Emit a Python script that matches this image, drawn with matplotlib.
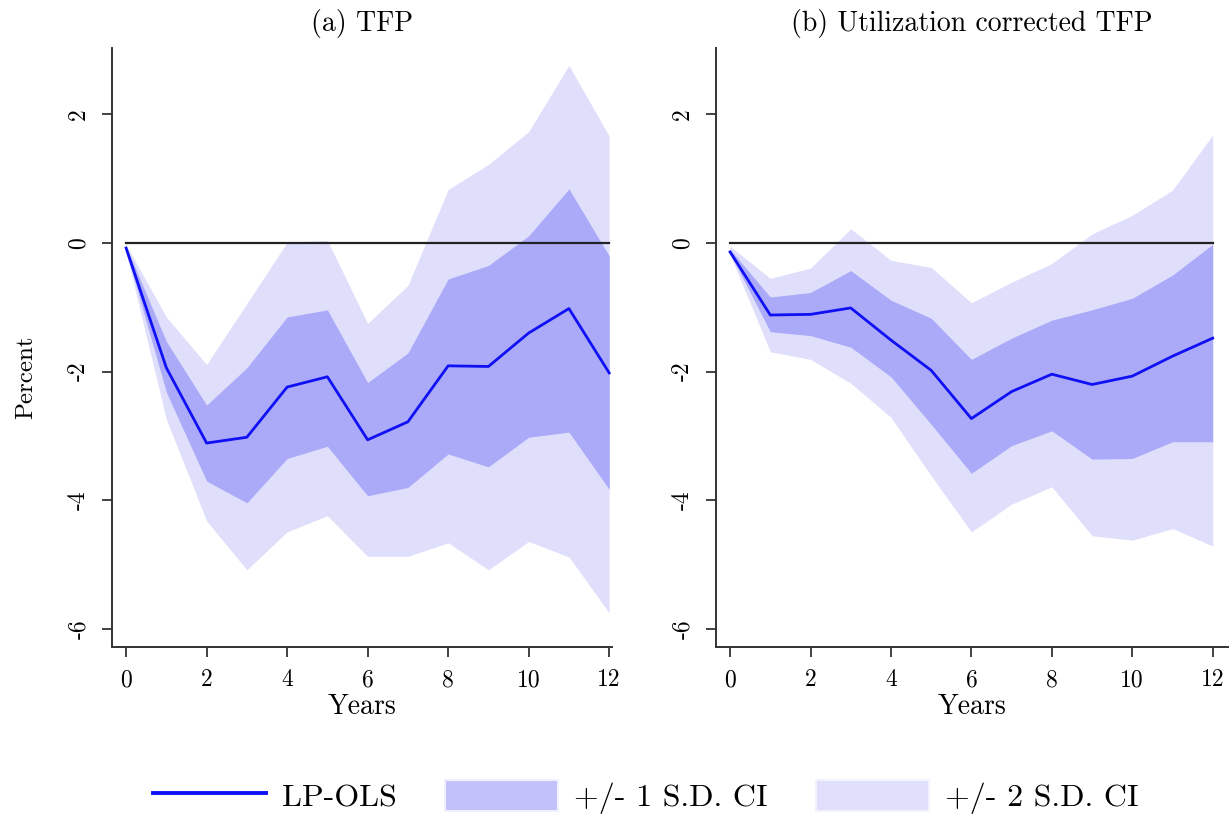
import matplotlib
matplotlib.use("Agg")
import matplotlib.pyplot as plt
from matplotlib.lines import Line2D
from matplotlib.patches import Patch

plt.rcParams['font.family'] = ['cmr10', 'DejaVu Serif']
plt.rcParams['axes.unicode_minus'] = False
plt.rcParams['mathtext.fontset'] = 'cm'

years = list(range(13))

# Panel (a) TFP
tfp_est = [-0.08, -1.94, -3.11, -3.02, -2.24, -2.08, -3.06, -2.78, -1.91, -1.92, -1.40, -1.02, -2.02]
tfp_up1 = [-0.05, -1.53, -2.52, -1.94, -1.15, -1.04, -2.17, -1.71, -0.56, -0.35, 0.11, 0.84, -0.20]
tfp_lo1 = [-0.12, -2.32, -3.70, -4.04, -3.35, -3.16, -3.93, -3.80, -3.28, -3.48, -3.02, -2.94, -3.83]
tfp_up2 = [-0.03, -1.15, -1.89, -0.94, 0.01, 0.04, -1.25, -0.66, 0.83, 1.22, 1.73, 2.76, 1.66]
tfp_lo2 = [-0.15, -2.74, -4.32, -5.08, -4.49, -4.24, -4.87, -4.87, -4.66, -5.08, -4.64, -4.88, -5.75]

# Panel (b) Utilization corrected TFP
util_est = [-0.14, -1.12, -1.11, -1.01, -1.51, -1.98, -2.73, -2.31, -2.04, -2.20, -2.07, -1.76, -1.48]
util_up1 = [-0.10, -0.84, -0.77, -0.43, -0.89, -1.17, -1.81, -1.48, -1.20, -1.04, -0.86, -0.50, -0.02]
util_lo1 = [-0.16, -1.38, -1.44, -1.62, -2.08, -2.82, -3.58, -3.15, -2.92, -3.36, -3.35, -3.09, -3.09]
util_up2 = [-0.05, -0.55, -0.39, 0.22, -0.27, -0.38, -0.93, -0.61, -0.32, 0.14, 0.43, 0.82, 1.68]
util_lo2 = [-0.18, -1.69, -1.81, -2.18, -2.71, -3.62, -4.49, -4.06, -3.79, -4.55, -4.62, -4.44, -4.71]

titles = ["(a) TFP", "(b) Utilization corrected TFP"]
yticks = [-6, -4, -2, 0, 2]
ytick_labels = ["-6", "-4", "-2", "0", "2"]
xticks = [0, 2, 4, 6, 8, 10, 12]
xtick_labels = ["0", "2", "4", "6", "8", "10", "12"]
legend_labels = ["LP-OLS", "+/- 1 S.D. CI", "+/- 2 S.D. CI"]

line_color = "#1010f5"
dark_band = "#aaaaf9"
light_band = "#dfdffc"
spine_color = "#333333"

fig = plt.figure(figsize=(12.3, 8.15), dpi=100)
axA = fig.add_axes([112/1230, 1-647/815, 500/1230, 599/815])
axB = fig.add_axes([716/1230, 1-647/815, 512/1230, 599/815])

panels = [
    (axA, tfp_est, tfp_up1, tfp_lo1, tfp_up2, tfp_lo2, (-0.35, 12.07)),
    (axB, util_est, util_up1, util_lo1, util_up2, util_lo2, (-0.35, 12.38)),
]

for i, (ax, est, u1, l1, u2, l2, xl) in enumerate(panels):
    ax.fill_between(years, l2, u2, color=light_band, lw=0, zorder=1)
    ax.fill_between(years, l1, u1, color=dark_band, lw=0, zorder=2)
    ax.plot([years[0], years[-1]], [0, 0], color="#222222", lw=1.6, zorder=3)
    ax.plot(years, est, color=line_color, lw=2.0, zorder=4)
    ax.set_xlim(*xl)
    ax.set_ylim(-6.28, 3.03)
    ax.set_xticks(xticks)
    ax.set_xticklabels(xtick_labels, fontsize=17)
    ax.set_yticks(yticks)
    ax.set_yticklabels(ytick_labels, fontsize=17, rotation=90, va='center')
    for s in ['top', 'right']:
        ax.spines[s].set_visible(False)
    for s in ['left', 'bottom']:
        ax.spines[s].set_color(spine_color)
        ax.spines[s].set_linewidth(1.4)
    ax.tick_params(axis='both', direction='out', length=7, width=1.3, color=spine_color, pad=9)
    ax.set_xlabel("Years", fontsize=20, labelpad=2)
    ax.set_title(titles[i], fontsize=20, pad=12)

axA.set_ylabel("Percent", fontsize=18)
axA.yaxis.set_label_coords(-0.15, 0.45)

handles = [
    Line2D([0], [0], color=line_color, lw=2.8),
    Patch(facecolor="#c2c2fb", edgecolor="#f0f0fe", lw=1.5),
    Patch(facecolor="#e0e0fc", edgecolor="#f3f3fe", lw=1.5),
]
fig.legend(handles, legend_labels, loc='center', bbox_to_anchor=(0.525, 0.022), ncol=3,
           frameon=False, fontsize=23, handlelength=3.55, handleheight=1.1,
           handletextpad=0.5, columnspacing=1.5)

fig.savefig("out.png", dpi=100, facecolor="white")
